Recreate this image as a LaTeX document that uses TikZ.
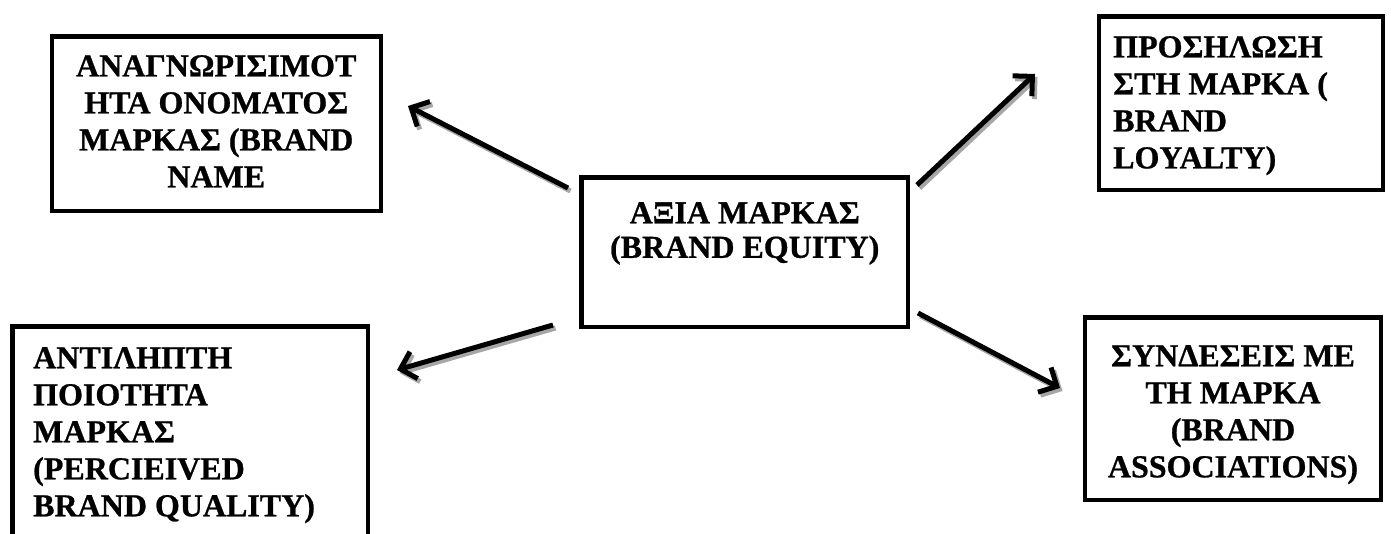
\documentclass[tikz,border=0pt]{standalone}
\usepackage{fontspec}
\setmainfont{Liberation Serif}[BoldFeatures={FakeBold=0.8}]
\usetikzlibrary{arrows.meta}
\begin{document}
\begin{tikzpicture}[x=1pt,y=-1pt,
  box/.style={draw=black, line width=4.5pt, inner sep=0pt, anchor=north west},
  txt/.style={font=\bfseries\fontsize{32}{37}\selectfont, inner sep=0pt},
  arr/.style={line width=5pt, line cap=butt, -{Straight Barb[length=14pt,width=28pt,line width=5pt]}},
  shad/.style={arr, draw=black!35, transform canvas={shift={(2.5pt,-3pt)}}}
]
\useasboundingbox (0,0) rectangle (1391,533);
\clip (0,0) rectangle (1391,533);

% boxes
\node[box, minimum width=329pt, minimum height=174.5pt] (b1) at (49.5,34.25) {};
\node[box, minimum width=326.5pt, minimum height=149.5pt] (bc) at (579.25,175.25) {};
\node[box, minimum width=284pt, minimum height=173.5pt] (b2) at (1096.75,14.25) {};
\node[box, minimum width=355.5pt, minimum height=240pt] (b3) at (10.25,324.25) {};
\node[box, minimum width=296pt, minimum height=182.5pt] (b4) at (1082.75,315.25) {};

% texts
\node[txt, align=center, anchor=north] (t1) at (b1.north |- 0,55) {ΑΝΑΓΝΩΡΙΣΙΜΟΤ\\ΗΤΑ ΟΝΟΜΑΤΟΣ\\ΜΑΡΚΑΣ (BRAND\\NAME};
\node[txt, font=\bfseries\fontsize{32}{34.5}\selectfont, align=center, anchor=north] (tc) at (bc.north |- 0,202) {ΑΞΙΑ ΜΑΡΚΑΣ\\(BRAND EQUITY)};
\node[txt, align=left, anchor=north west] (t2) at (1113,36) {ΠΡΟΣΗΛΩΣΗ\\ΣΤΗ ΜΑΡΚΑ (\\BRAND\\LOYALTY)};
\node[txt, align=left, anchor=north west] (t3) at (33,347) {ΑΝΤΙΛΗΠΤΗ\\ΠΟΙΟΤΗΤΑ\\ΜΑΡΚΑΣ\\(PERCIEIVED\\BRAND QUALITY)};
\node[txt, align=center, anchor=north] (t4) at (b4.north |- 0,345) {ΣΥΝΔΕΣΕΙΣ ΜΕ\\ΤΗ ΜΑΡΚΑ\\(BRAND\\ASSOCIATIONS)};

% arrow end points
\coordinate (a1s) at (568,188); \coordinate (a1e) at (408,106);
\coordinate (a2s) at (917,185); \coordinate (a2e) at (1035,74);
\coordinate (a3s) at (553,325); \coordinate (a3e) at (397,370);
\coordinate (a4s) at (918,313); \coordinate (a4e) at (1060,388);

% shadows
\draw[shad] (a1s) -- (a1e);
\draw[shad] (a2s) -- (a2e);
\draw[shad] (a3s) -- (a3e);
\draw[shad] (a4s) -- (a4e);
% arrows
\draw[arr] (a1s) -- (a1e);
\draw[arr] (a2s) -- (a2e);
\draw[arr] (a3s) -- (a3e);
\draw[arr] (a4s) -- (a4e);
\end{tikzpicture}
\end{document}
